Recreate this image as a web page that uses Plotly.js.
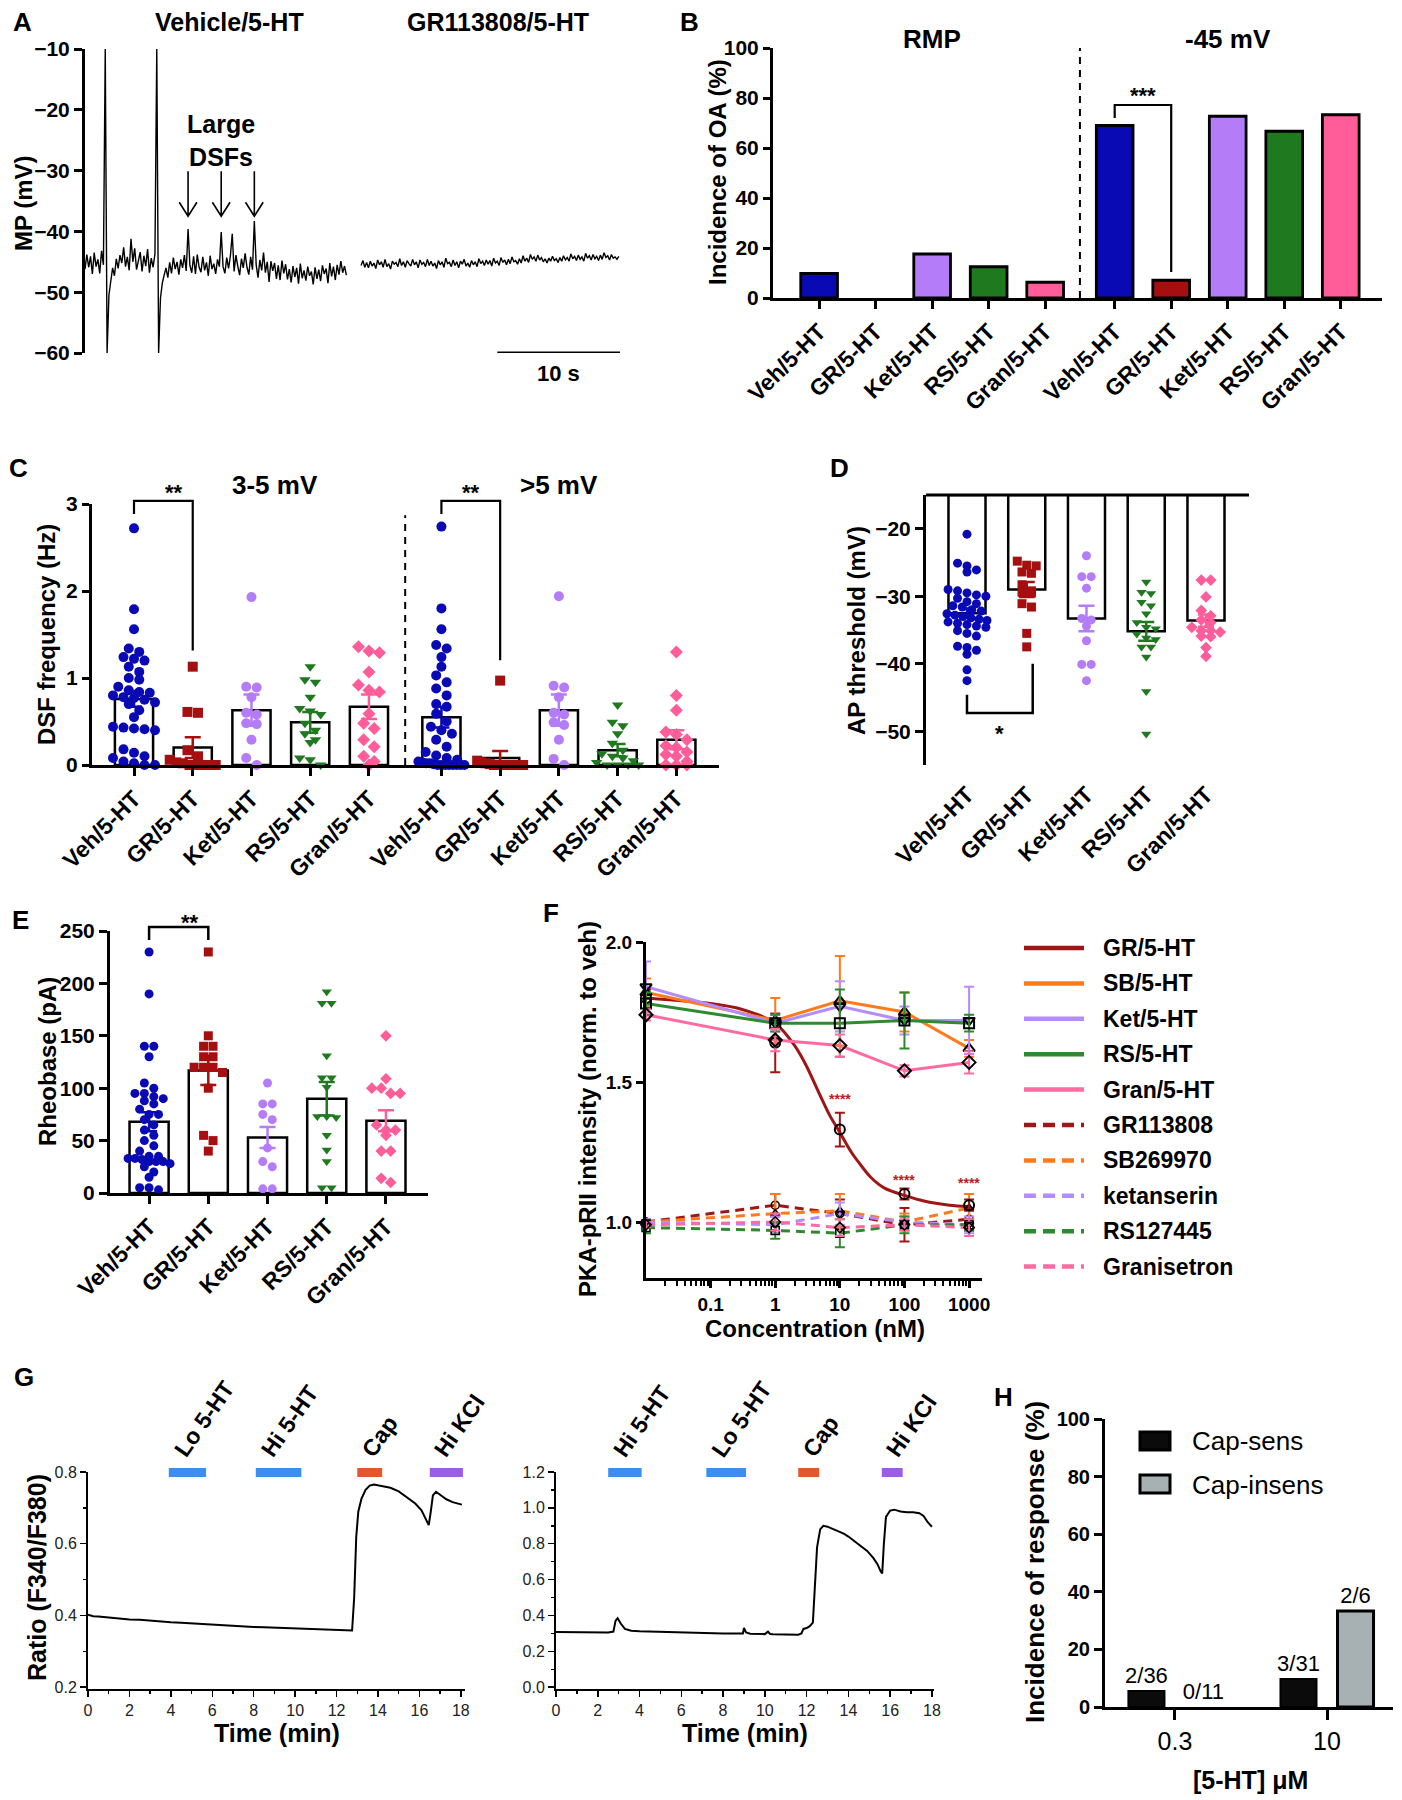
<!DOCTYPE html>
<html><head><meta charset="utf-8">
<script src="https://cdn.plot.ly/plotly-3.0.1.min.js"></script>
<style>html,body{margin:0;padding:0;background:#fff}#chart{width:1402px;height:1800px}</style>
</head><body><div id="chart"></div>
<script>
// ======================= DATA =======================
const groups = ['Veh/5-HT','GR/5-HT','Ket/5-HT','RS/5-HT','Gran/5-HT'];
const groupColors = ['#0a0ab4','#a50f0f','#b57cf7','#1f7a1f','#ff5c9a'];
const groupSymbols = ['circle','square','circle','triangle-down','diamond'];

// ---- A: membrane potential traces (mV), sampled every 0.15 s ----
const aTitles = ['Vehicle/5-HT','GR113808/5-HT'];
const aSampleDt = 0.15, aVehicleT0 = 0, aGRT0 = 22.5, aSpanS = 43.6, aScaleBarS = 10;
const aVehicleMP = [-46.2,-43.8,-45.9,-44.1,-47.0,-43.5,-45.8,-44.6,-46.9,-43.2,
 -45.5,-10.0,-60.0,-50.5,-48.2,-46.0,-47.3,-44.5,-46.1,-43.9,
 -45.2,-42.6,-45.8,-44.2,-46.4,-41.2,-45.0,-42.8,-46.3,-44.9,
 -43.4,-46.6,-44.0,-45.7,-42.9,-46.8,-44.4,-45.9,-43.7,-10.0,
 -60.0,-51.0,-48.5,-47.2,-46.0,-47.6,-45.1,-46.9,-44.3,-46.2,
 -45.0,-47.1,-44.6,-46.0,-43.9,-46.5,-39.6,-45.6,-46.8,-44.1,
 -47.0,-43.8,-45.9,-46.7,-44.2,-46.4,-45.1,-47.3,-44.0,-46.2,
 -45.3,-47.0,-44.6,-45.8,-40.1,-45.8,-46.9,-44.3,-46.1,-44.0,
 -40.4,-46.6,-43.9,-45.7,-47.2,-44.5,-46.0,-43.6,-45.9,-47.1,
 -44.2,-46.3,-38.3,-45.5,-47.6,-44.7,-46.4,-43.5,-46.8,-45.0,
 -48.3,-44.9,-46.5,-45.2,-47.8,-45.6,-48.0,-44.8,-46.9,-45.4,
 -47.9,-46.2,-48.4,-45.7,-47.5,-46.0,-48.6,-45.3,-47.7,-46.4,
 -48.1,-45.8,-47.3,-46.6,-48.7,-45.9,-47.8,-46.3,-48.2,-45.6,
 -47.0,-46.1,-48.5,-45.2,-47.4,-45.8,-48.0,-45.5,-47.1,-44.9,
 -46.8,-45.7,-47.2];
const aGR113808MP = [-45.6,-44.8,-45.9,-45.1,-46.0,-44.9,-45.7,-45.2,-46.1,-44.7,
 -45.5,-45.0,-45.9,-44.6,-45.8,-45.3,-46.2,-44.9,-45.4,-45.1,
 -45.8,-44.5,-45.6,-45.0,-45.9,-44.8,-45.3,-45.7,-44.6,-45.5,
 -45.0,-46.0,-44.7,-45.4,-45.1,-45.8,-44.6,-45.6,-44.9,-45.7,
 -45.2,-46.1,-44.8,-45.5,-45.0,-45.9,-44.4,-45.3,-45.1,-45.8,
 -44.7,-45.6,-45.0,-46.0,-44.9,-45.4,-44.6,-45.7,-45.2,-45.9,
 -44.8,-45.5,-45.0,-45.8,-44.5,-45.3,-44.9,-45.6,-44.7,-45.4,
 -44.8,-45.7,-44.4,-45.2,-44.9,-45.6,-44.3,-45.1,-44.7,-45.5,
 -44.6,-45.3,-44.2,-45.0,-44.8,-45.4,-44.5,-45.2,-44.0,-44.9,
 -44.4,-45.1,-43.8,-44.6,-44.2,-44.9,-43.9,-44.7,-44.3,-45.0,
 -44.5,-45.2,-44.4,-44.9,-44.1,-44.8,-44.5,-45.1,-44.3,-44.9,
 -44.0,-44.7,-44.3,-44.9,-43.7,-44.5,-44.1,-44.8,-43.9,-44.6,
 -44.2,-44.9,-43.6,-44.4,-44.0,-44.7,-43.8,-44.5,-44.1,-44.8,
 -43.9,-44.6,-43.5,-44.3,-44.0,-44.7,-43.8,-44.4,-44.2,-44.6,
 -44.1];
const aDSFArrowT = [8.4, 11.1, 13.8];

// ---- B: incidence of oscillatory activity (%) ----
const bGroupTitles = ['RMP','-45 mV'];
const bIncRMP = [9.8, 0, 17.6, 12.5, 6.3];
const bInc45 = [69.0, 7.1, 72.7, 66.7, 73.3];

// ---- C: DSF frequency (Hz) ----
const cGroupTitles = ['3-5 mV','>5 mV'];
const cVeh35 = [2.72,1.79,1.56,1.34,1.30,1.24,1.22,1.20,1.13,1.07,1.00,0.98,0.90,0.86,0.84,0.83,0.80,0.78,0.77,0.75,0.72,0.70,0.63,0.55,0.44,0.43,0.42,0.41,0.40,0.18,0.14,0.10,0.08,0.04,0.02,0.00,0.00];
const cGR35 = [1.13,0.61,0.60,0.17,0.10,0.06,0.03,0.02,0,0,0,0,0];
const cKet35 = [1.93,0.90,0.89,0.78,0.60,0.58,0.48,0.47,0.29,0.08,0.00];
const cRS35 = [1.13,0.98,0.95,0.78,0.65,0.62,0.58,0.48,0.40,0.36,0.29,0.26,0.08,0.06,0.00];
const cGran35 = [1.36,1.31,1.29,1.07,0.92,0.86,0.84,0.59,0.48,0.42,0.29,0.21,0.10,0.04,0.00];
const cVeh5 = [2.74,1.80,1.56,1.38,1.34,1.24,1.13,1.03,0.95,0.88,0.80,0.70,0.67,0.59,0.50,0.44,0.40,0.36,0.29,0.21,0.15,0.11,0.08,0.06,0.04,0.03,0.02,0.02,0.01,0,0,0,0,0,0,0,0];
const cGR5 = [0.97,0.05,0.03,0.02,0.01,0,0,0,0,0,0,0,0];
const cKet5 = [1.94,0.91,0.89,0.78,0.60,0.58,0.49,0.46,0.29,0.07,0.00];
const cRS5 = [0.69,0.49,0.45,0.36,0.25,0.17,0.13,0.10,0.08,0.05,0.03,0,0,0,0];
const cGran5 = [1.30,0.80,0.63,0.38,0.35,0.29,0.22,0.20,0.15,0.12,0.10,0.04,0,0,0];
const cMean35 = [0.76, 0.20, 0.63, 0.49, 0.67];
const cSem35  = [0.09, 0.12, 0.18, 0.12, 0.14];
const cMean5  = [0.55, 0.08, 0.63, 0.17, 0.29];
const cSem5   = [0.12, 0.08, 0.18, 0.07, 0.11];

// ---- D: AP threshold (mV) ----
const dVeh = [-20.8,-25.1,-25.5,-26.1,-26.4,-29.0,-29.2,-29.5,-29.8,-30.0,-30.3,-30.8,-31.1,-31.4,-31.6,-32.0,-32.2,-32.6,-32.8,-33.0,-33.2,-33.4,-33.6,-33.8,-34.0,-34.2,-34.4,-34.6,-35.1,-35.5,-35.9,-37.4,-37.6,-38.0,-38.6,-40.9,-42.5];
const dGR = [-24.8,-25.4,-25.5,-26.4,-26.6,-28.3,-29.2,-29.4,-29.5,-31.1,-31.6,-35.5,-37.5];
const dKet = [-24.0,-27.1,-27.1,-28.8,-33.3,-33.5,-34.4,-36.6,-40.1,-40.1,-42.5];
const dRS = [-27.9,-29.4,-29.6,-30.9,-31.4,-32.6,-33.9,-34.6,-34.8,-35.6,-36.2,-36.4,-37.5,-37.5,-39.0,-44.1,-50.4];
const dGran = [-27.6,-27.6,-30.1,-32.1,-32.9,-33.5,-33.9,-34.6,-35.1,-35.1,-35.3,-35.9,-36.0,-37.6,-38.9];
const dMean = [-32.5, -29.0, -33.3, -35.2, -33.6];
const dSem  = [0.7, 1.1, 1.9, 1.4, 0.9];
const dBase = -15;

// ---- E: rheobase (pA) ----
const eVeh = [230,190,140,140,130,105,100,95,95,92,90,88,85,80,75,75,70,65,60,55,50,45,40,35,35,33,33,32,30,30,30,28,25,20,15,5,5,3];
const eGR = [230,150,140,140,130,130,120,120,120,115,100,55,50,40];
const eKet = [105,85,85,75,70,43,30,25,4,4];
const eRS = [192,181,181,131,110,110,101,73,73,72,55,41,30,5,5];
const eGran = [150,109,100,100,95,95,65,60,60,55,40,40,14,10];
const eMean = [68, 117, 53, 90, 69];
const eSem  = [9, 14, 10, 16, 10];

// ---- F: PKA-pRII intensity (norm. to veh) vs concentration (nM) ----
const fConc = [0.01, 1, 10, 100, 1000]; // first point = 0 nM control, drawn at the axis origin
const fSolidNames = ['GR/5-HT','SB/5-HT','Ket/5-HT','RS/5-HT','Gran/5-HT'];
const fDashNames = ['GR113808','SB269970','ketanserin','RS127445','Granisetron'];
const fColors = ['#9e1616','#ff7a1a','#b48cff','#2f8a2f','#ff6aa2'];
const fSymbols = ['circle-open','triangle-up-open','triangle-down-open','square-open','diamond-open'];
const fGR   = [1.80, 1.64, 1.33, 1.10, 1.06]; const fGRsem   = [0.03, 0.105, 0.06, 0.02, 0.02];
const fSB   = [1.82, 1.72, 1.79, 1.75, 1.62]; const fSBsem   = [0.05, 0.08, 0.16, 0.07, 0.03];
const fKet  = [1.84, 1.71, 1.77, 1.72, 1.72]; const fKetsem  = [0.09, 0.03, 0.09, 0.05, 0.12];
const fRS   = [1.78, 1.71, 1.71, 1.72, 1.71]; const fRSsem   = [0.04, 0.03, 0.12, 0.10, 0.03];
const fGran = [1.74, 1.65, 1.63, 1.54, 1.57]; const fGransem = [0.02, 0.04, 0.04, 0.02, 0.04];
const fGR113808 = [1.00, 1.06, 1.03, 0.99, 1.01]; const fGR113808sem = [0.01, 0.04, 0.05, 0.06, 0.04];
const fSB269970 = [1.00, 1.03, 1.04, 1.00, 1.05]; const fSB269970sem = [0.01, 0.07, 0.06, 0.03, 0.05];
const fKetanserin = [1.00, 0.99, 1.03, 1.00, 0.99]; const fKetanserinsem = [0.01, 0.03, 0.04, 0.02, 0.03];
const fRS127445 = [0.98, 0.97, 0.96, 0.99, 0.99]; const fRS127445sem = [0.02, 0.03, 0.05, 0.03, 0.02];
const fGranisetron = [0.99, 1.00, 0.98, 0.99, 0.98]; const fGranisetronsem = [0.01, 0.03, 0.03, 0.02, 0.03];
const fGRFitX = [0.01, 0.1, 0.3, 1, 2, 3, 5, 7, 10, 15, 20, 30, 50, 100, 200, 500, 1000];
const fGRFitY = [1.80, 1.78, 1.76, 1.71, 1.63, 1.56, 1.45, 1.38, 1.32, 1.25, 1.21, 1.16, 1.12, 1.095, 1.075, 1.06, 1.055];
const fStarConc = [10, 100, 1000]; const fStarY = [1.44, 1.15, 1.14];

// ---- G: Fura-2 ratio traces ----
const gLeftT = [0,0.25,0.5,1,1.5,2,2.5,3,3.5,4,4.5,5,5.5,6,6.5,7,7.5,8,8.5,9,9.5,10,10.5,11,11.5,12,12.5,12.75,12.85,12.95,13.05,13.2,13.4,13.6,13.8,14.0,14.3,14.6,15.0,15.4,15.8,16.1,16.3,16.45,16.55,16.65,16.8,17.0,17.3,17.6,17.9,18.05];
const gLeftR = [0.402,0.398,0.397,0.394,0.392,0.389,0.388,0.385,0.384,0.381,0.380,0.378,0.377,0.375,0.373,0.371,0.370,0.368,0.367,0.366,0.365,0.363,0.362,0.360,0.359,0.358,0.357,0.358,0.45,0.62,0.69,0.725,0.75,0.762,0.765,0.763,0.760,0.756,0.746,0.730,0.712,0.693,0.672,0.652,0.69,0.735,0.745,0.736,0.724,0.716,0.712,0.709];
const gRightT = [0,0.5,1,1.5,2,2.5,2.75,2.85,2.95,3.1,3.3,3.6,4,4.5,5,5.5,6,6.5,7,7.5,8,8.5,8.95,9.0,9.1,9.3,9.6,10.0,10.15,10.25,10.4,10.8,11.2,11.6,11.75,11.85,12.0,12.15,12.3,12.4,12.5,12.65,12.8,13.0,13.2,13.4,13.6,13.8,14.0,14.3,14.6,14.9,15.2,15.4,15.55,15.62,15.7,15.8,16.0,16.2,16.5,16.8,17.1,17.4,17.6,17.8,18.0];
const gRightR = [0.308,0.307,0.306,0.306,0.305,0.305,0.31,0.37,0.385,0.355,0.325,0.315,0.312,0.310,0.308,0.306,0.304,0.303,0.302,0.301,0.300,0.299,0.300,0.33,0.305,0.298,0.297,0.296,0.31,0.297,0.295,0.294,0.293,0.292,0.30,0.325,0.33,0.34,0.36,0.55,0.78,0.88,0.90,0.895,0.885,0.875,0.865,0.855,0.84,0.815,0.79,0.76,0.72,0.685,0.645,0.635,0.80,0.95,0.985,0.99,0.98,0.975,0.975,0.97,0.955,0.92,0.895];
const gStimLeft = ['Lo 5-HT','Hi 5-HT','Cap','Hi KCl'];
const gStimLeftStart = [3.9, 8.1, 13.0, 16.5]; const gStimLeftEnd = [5.7, 10.3, 14.2, 18.1];
const gStimRight = ['Hi 5-HT','Lo 5-HT','Cap','Hi KCl'];
const gStimRightStart = [2.5, 7.2, 11.6, 15.6]; const gStimRightEnd = [4.1, 9.1, 12.6, 16.6];
const gStimColors = {'Lo 5-HT':'#3d8ef0','Hi 5-HT':'#3d8ef0','Cap':'#e4572e','Hi KCl':'#9b5de5'};

// ---- H: incidence of response (%) ----
const hConc = ['0.3','10'];
const hSeries = ['Cap-sens','Cap-insens'];
const hCapSens = [5.56, 9.68];   const hCapSensLbl = ['2/36','3/31'];
const hCapInsens = [0, 33.3];    const hCapInsensLbl = ['0/11','2/6'];

// ======================= LAYOUT HELPERS =======================
const W = 1402, H = 1800, K = '#000';
const FONT = 'Liberation Sans, Arial, Helvetica, sans-serif';
const BOX = {
  A:{x:[85,620],y:[49,353]}, B:{x:[773,1382],y:[48,298]}, C:{x:[92,719],y:[504,765]},
  D:{x:[926,1249],y:[495,765]}, E:{x:[110,428],y:[931,1193]}, F:{x:[646,982],y:[942,1278]},
  G1:{x:[88,465],y:[1472,1689]}, G2:{x:[556,934],y:[1472,1689]}, H:{x:[1105,1393],y:[1419,1707]}
};
const RNG = {
  A:{x:[0,aSpanS],y:[-60,-10]}, B:{x:[-0.816,9.96],y:[0,100]}, C:{x:[-0.715,9.96],y:[0,3]},
  D:{x:[-0.686,4.72],y:[-55,-15]}, E:{x:[-0.66,4.71],y:[0,250]}, F:{x:[-2,3.2],y:[0.8,2.0]},
  G1:{x:[0,18.2],y:[0.195,0.8]}, G2:{x:[0,18.1],y:[-0.01,1.2]}, H:{x:[-0.46,1.434],y:[0,100]}
};
const domX = p => [BOX[p].x[0]/W, BOX[p].x[1]/W];
const domY = p => [1-BOX[p].y[1]/H, 1-BOX[p].y[0]/H];
const pxPerX = p => (BOX[p].x[1]-BOX[p].x[0])/(RNG[p].x[1]-RNG[p].x[0]);
const pxPerY = p => (BOX[p].y[1]-BOX[p].y[0])/(RNG[p].y[1]-RNG[p].y[0]);
const fx = (p,v) => (v-RNG[p].x[0])/(RNG[p].x[1]-RNG[p].x[0]);   // data -> axis-domain fraction
const fy = (p,v) => (v-RNG[p].y[0])/(RNG[p].y[1]-RNG[p].y[0]);
const PX = x => x/W, PY = y => 1-y/H;
const bold = (size, extra) => Object.assign({family:FONT, size:size, color:K, weight:'bold'}, extra||{});

function ax(extra){
  return Object.assign({showgrid:false, zeroline:false, showline:true, linecolor:K, linewidth:3,
    ticks:'outside', ticklen:8, tickwidth:3, tickcolor:K, tickfont:bold(21), fixedrange:true}, extra);
}

// simple deterministic beeswarm: values close in y share a row and are spread sideways
function swarm(vals, center, p, d, maxHalf){
  const py = pxPerY(p), pxx = pxPerX(p);
  const idx = vals.map((v,i)=>i).sort((a,b)=>vals[b]-vals[a]);
  const xs = new Array(vals.length);
  let i = 0;
  while(i < idx.length){
    let j = i+1;
    while(j < idx.length && Math.abs(vals[idx[i]]-vals[idx[j]])*py < d*0.8) j++;
    const n = j-i;
    const sp = n > 1 ? Math.min(d*1.05, 2*maxHalf/(n-1)) : 0;
    for(let k=0;k<n;k++) xs[idx[i+k]] = center + ((k-(n-1)/2)*sp)/pxx;
    i = j;
  }
  return xs;
}
const outlineW = (vals, w) => vals.map(v => v === 0 ? 0 : w);   // no outline for empty (0 %) bars

const traces = [], shapes = [], ann = [];
const note = (text, x, y, size, extra) => ann.push(Object.assign({text:text, x:PX(x), y:PY(y), xref:'paper', yref:'paper',
  showarrow:false, xanchor:'center', yanchor:'middle', font:bold(size)}, extra||{}));

// ======================= PANEL A =======================
[aVehicleMP, aGR113808MP].forEach((arr,i)=>{
  traces.push({type:'scatter', mode:'lines', x0: i===0 ? aVehicleT0 : aGRT0, dx:aSampleDt, y:arr,
    xaxis:'x', yaxis:'y', line:{color:K, width:1.4}, hoverinfo:'skip'});
});
shapes.push({type:'line', xref:'x', yref:'y', x0:aSpanS-aScaleBarS, x1:aSpanS, y0:-60, y1:-60, line:{color:K,width:3}});
ann.push({text:'10 s', xref:'x', yref:'y', x:aSpanS-aScaleBarS/2, y:-60, yanchor:'top', yshift:-6, showarrow:false, font:bold(22)});
aDSFArrowT.forEach(t=>{
  shapes.push({type:'path', xref:'x', yref:'y', line:{color:K,width:1.6},
    path:`M${t},-30.1 L${t},-37.5 M${t-0.72},-35.2 L${t},-37.5 L${t+0.72},-35.2`});
});
ann.push({text:'Large<br>DSFs', xref:'x', yref:'y', x:11.1, y:-25, showarrow:false, font:bold(25)});
note(aTitles[0], 229, 22, 25); note(aTitles[1], 498, 22, 25);
note('MP (mV)', 24, 203, 24, {textangle:-90});

// ======================= PANEL B =======================
const GAP = 5.23;
const bPos = groups.map((g,i)=>i).concat(groups.map((g,i)=>i+GAP));
const bLabels = groups.concat(groups);
const bVals = bIncRMP.concat(bInc45);
traces.push({type:'bar', x:bPos, y:bVals, xaxis:'x2', yaxis:'y2', width:0.65,
  marker:{color:groupColors.concat(groupColors), line:{color:K,width:outlineW(bVals,2.8)}}, hoverinfo:'skip'});
shapes.push({type:'line', xref:'x2', yref:'y2', x0:(4+GAP)/2, x1:(4+GAP)/2, y0:0, y1:100, line:{color:K,width:2,dash:'7px,6px'}});
shapes.push({type:'path', xref:'x2', yref:'y2', line:{color:K,width:2.2},
  path:`M${GAP},72 L${GAP},77.2 L${GAP+1},77.2 L${GAP+1},10.4`});
ann.push({text:'***', xref:'x2', yref:'y2', x:GAP+0.5, y:81, showarrow:false, font:bold(22)});
ann.push({text:bGroupTitles[0], xref:'x2', yref:'paper', x:2, y:PY(22), showarrow:false, font:bold(26)});
ann.push({text:bGroupTitles[1], xref:'x2', yref:'paper', x:GAP+2, y:PY(22), showarrow:false, font:bold(26)});
note('Incidence of OA (%)', 717, 172, 24, {textangle:-90});

// ======================= PANEL C =======================
const CGAP = 5.234;
const cPos = groups.map((g,i)=>i).concat(groups.map((g,i)=>i+CGAP));
const cSets = [cVeh35,cGR35,cKet35,cRS35,cGran35,cVeh5,cGR5,cKet5,cRS5,cGran5];
const cMeans = cMean35.concat(cMean5), cSems = cSem35.concat(cSem5);
traces.push({type:'bar', x:cPos, y:cMeans, xaxis:'x3', yaxis:'y3', width:0.65,
  marker:{color:'#fff', line:{color:K,width:2.5}}, hoverinfo:'skip'});
cSets.forEach((vals,k)=>{
  const g = k%5;
  traces.push({type:'scatter', mode:'markers', x:swarm(vals, cPos[k], 'C', 10, 23), y:vals, xaxis:'x3', yaxis:'y3',
    cliponaxis:false, marker:{color:groupColors[g], symbol:groupSymbols[g], size:10}, hoverinfo:'skip'});
});
cMeans.forEach((m,k)=>{
  const g = k%5;
  traces.push({type:'scatter', mode:'markers', x:[cPos[k]], y:[m], xaxis:'x3', yaxis:'y3', cliponaxis:false,
    marker:{opacity:0, size:2}, error_y:{type:'data', array:[cSems[k]], color:groupColors[g], thickness:2.5, width:8}, hoverinfo:'skip'});
});
shapes.push({type:'line', xref:'x3', yref:'y3', x0:(4+CGAP)/2, x1:(4+CGAP)/2, y0:0, y1:2.87, line:{color:K,width:2,dash:'7px,6px'}});
[[0,1,1.317],[CGAP,CGAP+1,1.203]].forEach(([a,b,r])=>{
  shapes.push({type:'path', xref:'x3 domain', yref:'y3 domain', line:{color:K,width:2.2},
    path:`M${fx('C',a)},${fy('C',2.886)} L${fx('C',a)},${fy('C',3.035)} L${fx('C',b)},${fy('C',3.035)} L${fx('C',b)},${fy('C',r)}`});
  ann.push({text:'**', xref:'x3 domain', yref:'y3 domain', x:fx('C',(a+b)/2), y:fy('C',3.30), showarrow:false, font:bold(22)});
});
ann.push({text:cGroupTitles[0], xref:'x3', yref:'paper', x:2.4, y:PY(468), showarrow:false, font:bold(26)});
ann.push({text:cGroupTitles[1], xref:'x3', yref:'paper', x:CGAP+2, y:PY(468), showarrow:false, font:bold(26)});
note('DSF frequency (Hz)', 46, 635, 24, {textangle:-90});

// ======================= PANEL D =======================
const dPos = groups.map((g,i)=>i);
const dSets = [dVeh,dGR,dKet,dRS,dGran];
traces.push({type:'bar', x:dPos, y:dMean.map(m=>m-dBase), base:dBase, xaxis:'x4', yaxis:'y4', width:0.62,
  marker:{color:'#fff', line:{color:K,width:2.5}}, hoverinfo:'skip'});
dSets.forEach((vals,g)=>{
  traces.push({type:'scatter', mode:'markers', x:swarm(vals, g, 'D', 9, 20), y:vals, xaxis:'x4', yaxis:'y4',
    cliponaxis:false, marker:{color:groupColors[g], symbol:groupSymbols[g], size:9}, hoverinfo:'skip'});
});
dMean.forEach((m,g)=>{
  traces.push({type:'scatter', mode:'markers', x:[g], y:[m], xaxis:'x4', yaxis:'y4', cliponaxis:false,
    marker:{opacity:0,size:2}, error_y:{type:'data', array:[dSem[g]], color:groupColors[g], thickness:2.5, width:8}, hoverinfo:'skip'});
});
shapes.push({type:'line', xref:'x4 domain', yref:'y4 domain', x0:0, x1:1, y0:1, y1:1, line:{color:K,width:3}});
shapes.push({type:'path', xref:'x4 domain', yref:'y4 domain', line:{color:K,width:2.5},
  path:`M${fx('D',0)},${fy('D',-44.6)} L${fx('D',0)},${fy('D',-47.3)} L${fx('D',1.1)},${fy('D',-47.3)} L${fx('D',1.1)},${fy('D',-40)}`});
ann.push({text:'*', xref:'x4', yref:'y4', x:0.55, y:-50.3, showarrow:false, font:bold(22)});
note('AP threshold (mV)', 856, 630, 24, {textangle:-90});

// ======================= PANEL E =======================
const ePos = groups.map((g,i)=>i);
const eSets = [eVeh,eGR,eKet,eRS,eGran];
traces.push({type:'bar', x:ePos, y:eMean, xaxis:'x5', yaxis:'y5', width:0.66,
  marker:{color:'#fff', line:{color:K,width:2.5}}, hoverinfo:'skip'});
eSets.forEach((vals,g)=>{
  traces.push({type:'scatter', mode:'markers', x:swarm(vals, g, 'E', 9, 21), y:vals, xaxis:'x5', yaxis:'y5',
    cliponaxis:false, marker:{color:groupColors[g], symbol:groupSymbols[g], size:9}, hoverinfo:'skip'});
});
eMean.forEach((m,g)=>{
  traces.push({type:'scatter', mode:'markers', x:[g], y:[m], xaxis:'x5', yaxis:'y5', cliponaxis:false,
    marker:{opacity:0,size:2}, error_y:{type:'data', array:[eSem[g]], color:groupColors[g], thickness:2.5, width:8}, hoverinfo:'skip'});
});
shapes.push({type:'path', xref:'x5 domain', yref:'y5 domain', line:{color:K,width:2.5},
  path:`M${fx('E',0)},${fy('E',241.4)} L${fx('E',0)},${fy('E',253.8)} L${fx('E',1)},${fy('E',253.8)} L${fx('E',1)},${fy('E',241.4)}`});
ann.push({text:'**', xref:'x5 domain', yref:'y5 domain', x:fx('E',0.5), y:fy('E',272), showarrow:false, font:bold(22)});
note('Rheobase (pA)', 47, 1062, 24, {textangle:-90});

// ======================= PANEL F =======================
const fDash = [fGR113808,fSB269970,fKetanserin,fRS127445,fGranisetron];
const fDashSem = [fGR113808sem,fSB269970sem,fKetanserinsem,fRS127445sem,fGranisetronsem];
const fSolid = [fGR,fSB,fKet,fRS,fGran];
const fSolidSem = [fGRsem,fSBsem,fKetsem,fRSsem,fGransem];
fDash.forEach((ys,i)=>{
  traces.push({type:'scatter', mode:'lines', x:fConc, y:ys, xaxis:'x6', yaxis:'y6', name:fDashNames[i],
    line:{color:fColors[i], width:3, dash:'9px,6px'}, hoverinfo:'skip'});
});
fSolid.forEach((ys,i)=>{
  if(i===0){
    traces.push({type:'scatter', mode:'lines', x:fGRFitX, y:fGRFitY, xaxis:'x6', yaxis:'y6', name:fSolidNames[0],
      line:{color:fColors[0], width:3, shape:'spline', smoothing:0.8}, hoverinfo:'skip'});
  } else {
    traces.push({type:'scatter', mode:'lines', x:fConc, y:ys, xaxis:'x6', yaxis:'y6', name:fSolidNames[i],
      line:{color:fColors[i], width:3}, hoverinfo:'skip'});
  }
});
fDash.forEach((ys,i)=>{
  traces.push({type:'scatter', mode:'markers', x:fConc, y:ys, xaxis:'x6', yaxis:'y6', cliponaxis:false,
    marker:{symbol:fSymbols[i], color:K, size:8, line:{width:1.5}},
    error_y:{type:'data', array:fDashSem[i], color:fColors[i], thickness:2, width:5}, hoverinfo:'skip'});
});
fSolid.forEach((ys,i)=>{
  traces.push({type:'scatter', mode:'markers', x:fConc, y:ys, xaxis:'x6', yaxis:'y6', cliponaxis:false,
    marker:{symbol:fSymbols[i], color:K, size:10, line:{width:2}},
    error_y:{type:'data', array:fSolidSem[i], color:fColors[i], thickness:2, width:5}, hoverinfo:'skip'});
});
fStarConc.forEach((c,i)=>{
  ann.push({text:'****', xref:'x6', yref:'y6', x:Math.log10(c), y:fStarY[i], showarrow:false, font:bold(14,{color:'#b22222'})});
});
const fMinor = [];
for(let e=-2;e<=3;e++) for(let m=2;m<=9;m++){ const v=m*Math.pow(10,e); if(Math.log10(v)<3.2) fMinor.push(v); }
// legend (drawn as in the original: long line samples)
fSolidNames.concat(fDashNames).forEach((nm,i)=>{
  const y = 948 + i*35.4;
  shapes.push({type:'line', xref:'paper', yref:'paper', x0:PX(1024), x1:PX(1084), y0:PY(y), y1:PY(y),
    line:{color:fColors[i%5], width:4.5, dash: i<5 ? 'solid' : '12px,7px'}});
  note(nm, 1101, y, 23, {xanchor:'left'});
});
note('PKA-pRII intensity (norm. to veh)', 587, 1109, 24, {textangle:-90});
note('Concentration (nM)', 815, 1328, 24);

// ======================= PANEL G =======================
traces.push({type:'scatter', mode:'lines', x:gLeftT, y:gLeftR, xaxis:'x7', yaxis:'y7', line:{color:K,width:2}, hoverinfo:'skip'});
traces.push({type:'scatter', mode:'lines', x:gRightT, y:gRightR, xaxis:'x8', yaxis:'y8', line:{color:K,width:2}, hoverinfo:'skip'});
[['G1','x7',gStimLeft,gStimLeftStart,gStimLeftEnd],['G2','x8',gStimRight,gStimRightStart,gStimRightEnd]].forEach(([p,xa,names,st,en])=>{
  names.forEach((nm,i)=>{
    shapes.push({type:'rect', xref:xa+' domain', yref:'paper', x0:fx(p,st[i]), x1:fx(p,en[i]), y0:PY(1477), y1:PY(1468),
      fillcolor:gStimColors[nm], line:{width:0}});
    ann.push({text:nm, xref:xa, yref:'paper', x:st[i]-0.15, y:PY(1464), xanchor:'left', yanchor:'bottom', textangle:-55,
      showarrow:false, font:bold(23)});
  });
});
note('Ratio (F340/F380)', 37, 1578, 25, {textangle:-90});
note('Time (min)', 277, 1733, 25); note('Time (min)', 745, 1733, 25);

// ======================= PANEL H =======================
traces.push({type:'bar', x:hConc, y:hCapSens, text:hCapSensLbl, textposition:'outside', constraintext:'none', cliponaxis:false,
  width:0.237, offset:-0.306, xaxis:'x9', yaxis:'y9', name:hSeries[0],
  marker:{color:'#0b0b0b', line:{color:K,width:outlineW(hCapSens,2)}}, textfont:{family:FONT,size:22,color:K}, hoverinfo:'skip'});
traces.push({type:'bar', x:hConc, y:hCapInsens, text:hCapInsensLbl, textposition:'outside', constraintext:'none', cliponaxis:false,
  width:0.237, offset:0.069, xaxis:'x9', yaxis:'y9', name:hSeries[1],
  marker:{color:'#a7b1b4', line:{color:K,width:outlineW(hCapInsens,3)}}, textfont:{family:FONT,size:22,color:K}, hoverinfo:'skip'});
[[1432,1450,'#0b0b0b',1441],[1475,1493,'#a7b1b4',1485]].forEach(([t,b,c,yc],i)=>{
  shapes.push({type:'rect', xref:'paper', yref:'paper', x0:PX(1140), x1:PX(1170), y0:PY(b), y1:PY(t), fillcolor:c, line:{color:K,width:3}});
  note(hSeries[i], 1190, yc, 26, {xanchor:'left', font:{family:FONT,size:26,color:K,weight:'normal'}});
});
note('Incidence of response (%)', 1035, 1562, 26, {textangle:-90});
note('[5-HT] μM', 1250, 1780, 25);

// ---- panel letters ----
[['A',22,22],['B',689,22],['C',18,468],['D',839,468],['E',20,920],['F',551,913],['G',24,1377],['H',1003,1397]]
  .forEach(([t,x,y])=>note(t,x,y,26));

// ======================= AXES =======================
const catFont = bold(23);
const gTick = {family:FONT, size:16, color:'#222', weight:'normal'};
const layout = {
  width:W, height:H, margin:{l:0,r:0,t:0,b:0}, paper_bgcolor:'#fff', plot_bgcolor:'rgba(0,0,0,0)',
  showlegend:false, barmode:'overlay', font:{family:FONT, color:K},
  xaxis: ax({domain:domX('A'), range:RNG.A.x, visible:false, anchor:'y'}),
  yaxis: ax({domain:domY('A'), range:RNG.A.y, anchor:'x', tickvals:[-60,-50,-40,-30,-20,-10]}),
  xaxis2: ax({domain:domX('B'), range:RNG.B.x, anchor:'y2', tickvals:bPos, ticktext:bLabels, tickangle:-45, tickfont:catFont}),
  yaxis2: ax({domain:domY('B'), range:RNG.B.y, anchor:'x2', dtick:20, ticklen:7}),
  xaxis3: ax({domain:domX('C'), range:RNG.C.x, anchor:'y3', tickvals:cPos, ticktext:bLabels, tickangle:-45, tickfont:catFont}),
  yaxis3: ax({domain:domY('C'), range:RNG.C.y, anchor:'x3', dtick:1, ticklen:7}),
  xaxis4: ax({domain:domX('D'), range:RNG.D.x, anchor:'y4', showline:false, tickvals:dPos, ticktext:groups, tickangle:-45,
               tickfont:catFont, tickcolor:'rgba(0,0,0,0)', ticklen:6}),
  yaxis4: ax({domain:domY('D'), range:RNG.D.y, anchor:'x4', tickvals:[-20,-30,-40,-50]}),
  xaxis5: ax({domain:domX('E'), range:RNG.E.x, anchor:'y5', tickvals:ePos, ticktext:groups, tickangle:-45, tickfont:catFont}),
  yaxis5: ax({domain:domY('E'), range:RNG.E.y, anchor:'x5', dtick:50}),
  xaxis6: ax({domain:domX('F'), range:RNG.F.x, anchor:'y6', type:'log', tickvals:[0.1,1,10,100,1000],
               ticktext:['0.1','1','10','100','1000'], tickfont:bold(19), ticklen:7,
               minor:{tickvals:fMinor, ticks:'outside', ticklen:5, tickwidth:2, tickcolor:K}}),
  yaxis6: ax({domain:domY('F'), range:RNG.F.y, anchor:'x6', tickvals:[1.0,1.5,2.0], ticktext:['1.0','1.5','2.0'], tickfont:bold(19), ticklen:7}),
  xaxis7: ax({domain:domX('G1'), range:RNG.G1.x, anchor:'y7', dtick:2, tick0:0, linewidth:2, tickwidth:1.5, ticklen:6, tickfont:gTick,
               minor:{dtick:1, ticks:'outside', ticklen:3, tickwidth:1.5, tickcolor:K}}),
  yaxis7: ax({domain:domY('G1'), range:RNG.G1.y, anchor:'x7', tickvals:[0.2,0.4,0.6,0.8], tickformat:'.1f', linewidth:2, tickwidth:1.5, ticklen:6, tickfont:gTick,
               minor:{tickvals:[0.3,0.5,0.7], ticks:'outside', ticklen:3, tickwidth:1.5, tickcolor:K}}),
  xaxis8: ax({domain:domX('G2'), range:RNG.G2.x, anchor:'y8', dtick:2, tick0:0, linewidth:2, tickwidth:1.5, ticklen:6, tickfont:gTick,
               minor:{dtick:1, ticks:'outside', ticklen:3, tickwidth:1.5, tickcolor:K}}),
  yaxis8: ax({domain:domY('G2'), range:RNG.G2.y, anchor:'x8', tickvals:[0,0.2,0.4,0.6,0.8,1.0,1.2], tickformat:'.1f', linewidth:2, tickwidth:1.5, ticklen:6, tickfont:gTick,
               minor:{tickvals:[0.1,0.3,0.5,0.7,0.9,1.1], ticks:'outside', ticklen:3, tickwidth:1.5, tickcolor:K}}),
  xaxis9: ax({domain:domX('H'), range:RNG.H.x, anchor:'y9', type:'category', categoryarray:hConc, ticklen:10,
               tickfont:{family:FONT, size:25, color:K, weight:'normal'}}),
  yaxis9: ax({domain:domY('H'), range:RNG.H.y, anchor:'x9', dtick:20, tickfont:bold(20)}),
  shapes:shapes, annotations:ann
};

Plotly.newPlot('chart', traces, layout, {staticPlot:true});
</script>
</body></html>
